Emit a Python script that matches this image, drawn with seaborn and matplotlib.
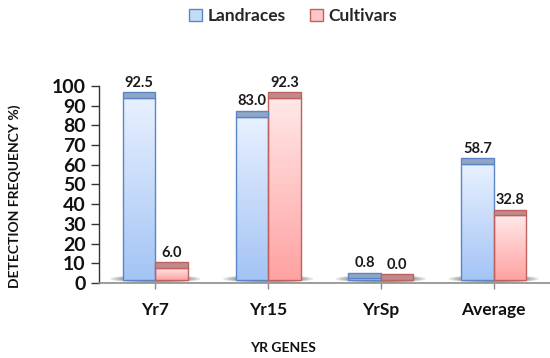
import numpy as np
import pandas as pd
import matplotlib
matplotlib.use("Agg")
import matplotlib.pyplot as plt
import seaborn as sns
from matplotlib.patches import Rectangle, Ellipse, Patch
from matplotlib.colors import LinearSegmentedColormap

# Detection frequency (%) of each Yr resistance gene
genes = ["Yr7", "Yr15", "YrSp", "Average"]
groups = ["Landraces", "Cultivars"]
landraces = [92.5, 83.0, 0.8, 58.7]
cultivars = [6.0, 92.3, 0.0, 32.8]
yticks = list(range(0, 101, 10))

df = pd.DataFrame({
    "gene": genes * 2,
    "group": [groups[0]] * len(genes) + [groups[1]] * len(genes),
    "freq": landraces + cultivars,
})

sns.set_theme(style="ticks")
plt.rcParams["font.family"] = ["Lato", "DejaVu Sans"]

FLOOR = 1.5   # raised floor of the pseudo-3D chart
CAP = 3.0     # thickness of the visible bar top face

styles = {
    "Landraces": dict(top="#E8F1FF", bottom="#A4C4F5", edge="#5A86C6",
                      cap="#8FA6C6", legend="#C6DAF8"),
    "Cultivars": dict(top="#FFE8E8", bottom="#FFA2A2", edge="#C0615F",
                      cap="#BD8B8B", legend="#FFC6C6"),
}

fig = plt.figure(figsize=(5.5, 3.58), dpi=100)
ax = fig.add_axes([0.18, 0.2095, 0.82, 0.5503])

sns.barplot(data=df, x="gene", y="freq", hue="group", order=genes,
            hue_order=groups, palette=[styles[g]["bottom"] for g in groups],
            width=0.575, gap=0, bottom=FLOOR, legend=False, ax=ax,
            linewidth=1, zorder=3)

# soft floor shadows under each pair of bars
for i in range(len(genes)):
    for k in range(8):
        s = 1 - k * 0.07
        ax.add_patch(Ellipse((i, FLOOR + 0.6), 0.80 * s, 4.0 * s,
                             facecolor="#5A5A5A", edgecolor="none",
                             alpha=0.16, zorder=1))

grad = np.linspace(0, 1, 256).reshape(-1, 1)
for group, container in zip(groups, ax.containers):
    st = styles[group]
    cmap = LinearSegmentedColormap.from_list(group, [st["bottom"], st["top"]])
    vals = landraces if group == "Landraces" else cultivars
    for bar, v in zip(container.patches, vals):
        x, w = bar.get_x(), bar.get_width()
        y0, h = bar.get_y(), bar.get_height()
        if h > 0:
            ax.imshow(grad, cmap=cmap, extent=[x, x + w, y0, y0 + h],
                      origin="lower", aspect="auto", zorder=2.9,
                      interpolation="bilinear")
        bar.set_facecolor("none")
        bar.set_edgecolor(st["edge"])
        bar.set_linewidth(1)
        ax.add_patch(Rectangle((x, y0 + h), w, CAP, facecolor=st["cap"],
                               edgecolor=st["edge"], linewidth=1, zorder=3))
        ax.text(x + w / 2, y0 + h + CAP + 1.2, f"{v:.1f}", ha="center",
                va="bottom", fontsize=10.5, fontweight="bold", color="#1a1a1a")

ax.set_xlim(-0.5, 3.5)
ax.set_ylim(0, 100)
ax.set_yticks(yticks)
ax.set_yticklabels([str(t) for t in yticks], fontsize=14, fontweight="bold",
                   color="#111111")
ax.set_xticks(range(len(genes)))
ax.set_xticklabels(genes, fontsize=12.5, fontweight="bold", color="#111111")
ax.tick_params(axis="y", length=6, width=1, color="#333333", pad=3.5)
ax.tick_params(axis="x", length=4, width=1, color="#8a8a8a", pad=10)

sns.despine(ax=ax)
ax.spines["left"].set_color("#333333")
ax.spines["bottom"].set_color("#8c8c8c")
ax.spines["left"].set_linewidth(1)
ax.spines["bottom"].set_linewidth(1.2)

ax.set_xlabel("YR GENES", fontsize=10, fontweight="bold", color="#111111")
ax.xaxis.set_label_coords((283 - 99) / 451, (283 - 348) / 197)
ax.xaxis.label.set_va("center")
ax.set_ylabel("DETECTION FREQUENCY %)", fontsize=10, fontweight="bold",
              color="#111111")
ax.yaxis.set_label_coords((15 - 99) / 451, (283 - 196) / 197)
ax.yaxis.label.set_va("center")

handles = [Patch(facecolor=styles[g]["legend"], edgecolor=styles[g]["edge"])
           for g in groups]
fig.legend(handles, groups, loc="center", bbox_to_anchor=(0.533, 0.955),
           ncol=2, frameon=False, handlelength=0.75, handleheight=0.75,
           columnspacing=1.4, handletextpad=0.3,
           prop={"size": 12.5, "weight": "bold"})

fig.savefig("out.png", dpi=100)
